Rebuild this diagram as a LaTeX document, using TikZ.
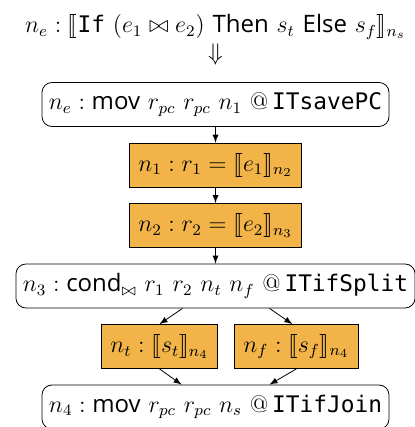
\documentclass[tikz,border=0pt]{standalone}
\usepackage{amsmath,amssymb}
\usepackage{stmaryrd}
\usepackage{fontspec}
\setsansfont{Open Sans}
\setmonofont[Scale=0.95]{DejaVu Sans Mono}
\usetikzlibrary{shapes,arrows,positioning,calc}
\definecolor{blockorange}{RGB}{242,180,72}
\tikzstyle{instr} = [rectangle, draw, rounded corners=5pt, text centered, minimum height=22pt, inner xsep=3.5pt]
\tikzstyle{block} = [rectangle, draw, fill=blockorange, text centered, minimum height=22pt, inner xsep=4.5pt]
\tikzstyle{plain} = [inner sep=0pt]
\newcommand{\sem}[2]{\llbracket #1 \rrbracket_{#2}}
\newcommand{\kw}[1]{\textsf{#1}}
\newcommand{\itlabel}[1]{@\,\texttt{#1}}

\begin{document}
\begin{tikzpicture}[auto, node distance=30.25pt, >=latex, font=\fontsize{12}{14}\selectfont]
    \useasboundingbox (0,0) rectangle (207.5pt,-213.5pt);
    \node[plain] (title) at (107.75pt,-13.5pt) {$n_e : \sem{\texttt{If}\ (e_1 \bowtie e_2)\ \kw{Then}\ s_t\ \kw{Else}\ s_f}{n_s}$};
    \node[plain, below=2pt of title] (imp) {$\Downarrow$};
    \node[instr, below of=title, node distance=38.75pt] (ne) {$n_e : \kw{mov}\ r_{pc}\ r_{pc}\ n_1\ \itlabel{ITsavePC}$};
    \node[block, below of=ne] (n1) {$n_1 : r_1 = \sem{e_1}{n_2}$};
    \node[block, below of=n1] (n2) {$n_2 : r_2 = \sem{e_2}{n_3}$};
    \node[instr, below of=n2] (n3) {$n_3 : \kw{cond}_{\bowtie}\ r_1\ r_2\ n_t\ n_f\ \itlabel{ITifSplit}$};
    \node[block, below of=n3, xshift=-28pt] (nt) {$n_t : \sem{s_t}{n_4}$};
    \node[block, right=8pt of nt] (nf) {$n_f : \sem{s_f}{n_4}$};
    \node[instr, below of=n3, node distance=60.5pt] (n4) {$n_4 : \kw{mov}\ r_{pc}\ r_{pc}\ n_s\ \itlabel{ITifJoin}$};

    \draw[->] (ne) -- (n1);
    \draw[->] (n1) -- (n2);
    \draw[->] (n2) -- (n3);
    \draw[->] ([xshift=-16.5pt]n3.south) -- (nt.north);
    \draw[->] ([xshift=27pt]n3.south) -- ([xshift=-2pt]nf.north);
    \draw[->] (nt.south) -- ([xshift=-17pt]n4.north);
    \draw[->] (nf.south) -- ([xshift=27pt]n4.north);
\end{tikzpicture}
\end{document}
